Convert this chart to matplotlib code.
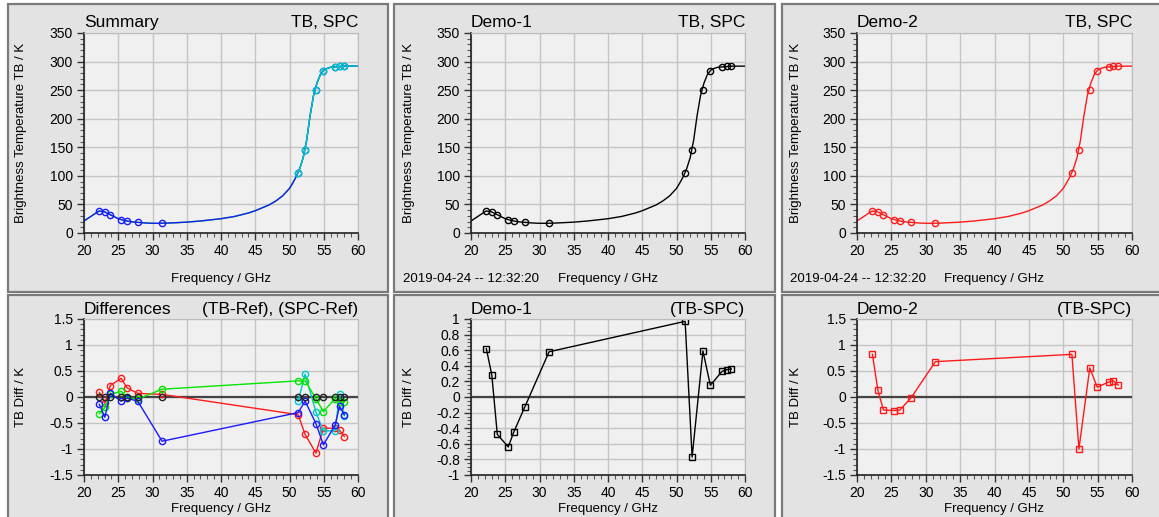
import matplotlib
matplotlib.use('Agg')
import matplotlib.pyplot as plt
from matplotlib.patches import Rectangle
from matplotlib.ticker import MultipleLocator, FuncFormatter

plt.rcParams['font.family'] = ['Liberation Sans', 'DejaVu Sans']

W, H = 1159, 517

# ---- data ----
freq = [22.24, 23.04, 23.84, 25.44, 26.24, 27.84, 31.40,
        51.26, 52.28, 53.86, 54.94, 56.66, 57.30, 58.00]
tb = [38.5, 37, 32, 23, 21, 18.5, 17.5, 105, 145, 250, 284, 291, 292, 292.5]

curve_freq = [20, 21, 22, 22.24, 23, 24, 25, 26, 27, 28, 29, 30, 31, 32, 33, 35, 37,
              40, 42, 44, 45, 46, 47, 48, 49, 50, 50.5, 51, 51.5, 52, 52.5, 53,
              53.5, 54, 54.5, 55, 55.5, 56, 57, 58, 59, 60]
curve_tb = [21, 29, 37, 38.5, 37, 31, 25, 21.5, 19.5, 18.5, 17.5, 17, 17, 17.3, 17.8,
            19, 21, 25, 29, 35, 39, 44, 49, 56, 65, 78, 88, 99, 113, 132, 162, 205,
            240, 262, 277, 285, 288, 290, 291, 292, 292, 292]

diff_zero = [0] * 14
diff_red = [0.09, -0.12, 0.22, 0.36, 0.18, 0.07, 0.05,
            -0.34, -0.72, -1.08, -0.60, -0.60, -0.64, -0.76]
diff_blue = [-0.14, -0.39, 0.07, -0.08, -0.02, -0.08, -0.85,
             -0.30, -0.08, -0.51, -0.92, -0.54, -0.18, -0.34]
diff_green = [-0.32, -0.20, 0.05, 0.11, -0.01, -0.04, 0.15,
              0.31, 0.31, -0.03, -0.28, -0.03, -0.10, -0.09]
cyan_freq = [51.26, 52.28, 53.86, 54.94, 56.66, 57.30, 58.00]
diff_cyan = [-0.08, 0.44, -0.29, -0.65, -0.65, 0.05, -0.36]

demo1_diff = [0.62, 0.28, -0.48, -0.64, -0.45, -0.13, 0.58,
              0.97, -0.77, 0.59, 0.15, 0.33, 0.35, 0.36]
demo2_diff = [0.82, 0.13, -0.25, -0.26, -0.25, -0.02, 0.68,
              0.82, -1.00, 0.56, 0.19, 0.29, 0.31, 0.23]

date_text = "2019-04-24 -- 12:32:20"

RED = '#ff1a1a'
BLUE = '#1a1aff'
GREEN = '#00e600'
CYAN = '#00c8c8'

fig = plt.figure(figsize=(W / 100, H / 100), dpi=100)
fig.patch.set_facecolor('white')


def fx(px):
    return px / W


def fy(py):
    return 1 - py / H


# panel backgrounds
cols = [(8, 388), (394, 775), (782, 1162)]
rows = [(4, 292), (295, 521)]
for (x0, x1) in cols:
    for (y0, y1) in rows:
        fig.patches.append(Rectangle((fx(x0), fy(y1)), fx(x1) - fx(x0), fy(y0) - fy(y1),
                                     transform=fig.transFigure, facecolor='#e3e3e3',
                                     edgecolor='#7a7a7a', linewidth=1.6, zorder=-5))

ax_cols = [(84, 358), (471, 745), (857, 1132)]
ax_rows = [(33, 233), (319, 475)]
ylab_x = [27, 415, 802]
fmt = FuncFormatter(lambda v, p: ('%g' % round(v, 6)) if abs(v) > 1e-9 else '0')


def make_ax(ci, ri, ylim, major, minor, ylabel, title_l, title_r):
    l, r = ax_cols[ci]
    t, b = ax_rows[ri]
    ax = fig.add_axes([fx(l), fy(b), fx(r) - fx(l), fy(t) - fy(b)])
    ax.set_facecolor('#f0f0f0')
    ax.set_xlim(20, 60)
    ax.set_ylim(*ylim)
    ax.xaxis.set_major_locator(MultipleLocator(5))
    ax.xaxis.set_minor_locator(MultipleLocator(1))
    ax.yaxis.set_major_locator(MultipleLocator(major))
    ax.yaxis.set_minor_locator(MultipleLocator(minor))
    ax.yaxis.set_major_formatter(fmt)
    ax.xaxis.set_major_formatter(fmt)
    ax.grid(True, which='major', color='#c4c4c4', linewidth=1.0)
    ax.set_axisbelow(True)
    ax.tick_params(which='major', direction='out', length=5, width=1, pad=3,
                   labelsize=10, color='#333333')
    ax.tick_params(which='minor', direction='out', length=3, width=0.8, color='#555555')
    ax.tick_params(top=False, right=False, which='both')
    for s in ['left', 'bottom']:
        ax.spines[s].set_color('#222222')
        ax.spines[s].set_linewidth(1.2)
    for s in ['top', 'right']:
        ax.spines[s].set_color('#bbbbbb')
        ax.spines[s].set_linewidth(0.8)
    ax.set_ylabel(ylabel, fontsize=9.5)
    ax.yaxis.set_label_coords((ylab_x[ci] - l) / (r - l), 0.5)
    ax.set_xlabel('Frequency / GHz', fontsize=9.5)
    xl_base = 282 if ri == 0 else 512
    ax.xaxis.set_label_coords(0.5, -(xl_base - b) / (b - t))
    ax.xaxis.label.set_va('baseline')
    tb_base = t - 6 if ri == 0 else t - 5
    fig.text(fx(l), fy(tb_base), title_l, fontsize=12.5, ha='left', va='baseline')
    fig.text(fx(r), fy(tb_base), title_r, fontsize=12.5, ha='right', va='baseline')
    return ax


mk = dict(marker='o', markersize=4.5, markerfacecolor='none', markeredgewidth=1.0,
          linestyle='none')

# --- Top row ---
ax = make_ax(0, 0, (0, 350), 50, 10, 'Brightness Temperature TB / K', 'Summary', 'TB, SPC')
ax.plot(curve_freq, curve_tb, color=GREEN, lw=1.0)
ax.plot(curve_freq, curve_tb, color=BLUE, lw=1.0)
hi_cf = [f for f in curve_freq if f >= 51]
hi_ct = [v for f, v in zip(curve_freq, curve_tb) if f >= 51]
ax.plot(hi_cf, hi_ct, color=CYAN, lw=1.0)
ax.plot(freq, tb, color=BLUE, **mk)
ax.plot(freq[7:], tb[7:], color=CYAN, **mk)

ax = make_ax(1, 0, (0, 350), 50, 10, 'Brightness Temperature TB / K', 'Demo-1', 'TB, SPC')
ax.plot(curve_freq, curve_tb, color='black', lw=1.0)
ax.plot(freq, tb, color='black', **mk)

ax = make_ax(2, 0, (0, 350), 50, 10, 'Brightness Temperature TB / K', 'Demo-2', 'TB, SPC')
ax.plot(curve_freq, curve_tb, color=RED, lw=1.0)
ax.plot(freq, tb, color=RED, **mk)

for px in (403, 790):
    fig.text(fx(px), fy(282), date_text, fontsize=9.5, ha='left', va='baseline')

# --- Bottom row ---
ml = dict(marker='o', markersize=4.5, markerfacecolor='none', markeredgewidth=1.0, lw=1.0)
ax = make_ax(0, 1, (-1.5, 1.5), 0.5, 0.1, 'TB Diff / K', 'Differences', '(TB-Ref), (SPC-Ref)')
ax.axhline(0, color='#444444', lw=1.6, zorder=1)
ax.plot(freq, diff_red, color=RED, **ml)
ax.plot(cyan_freq, diff_cyan, color=CYAN, **ml)
ax.plot(freq, diff_green, color=GREEN, **ml)
ax.plot(freq, diff_blue, color=BLUE, **ml)
ax.plot(freq, diff_zero, color='#222222', marker='o', markersize=4.5, markerfacecolor='none',
        markeredgewidth=1.0, linestyle='none')

sq = dict(marker='s', markersize=5, markerfacecolor='none', markeredgewidth=1.0, lw=1.0)
ax = make_ax(1, 1, (-1, 1), 0.2, 0.05, 'TB Diff / K', 'Demo-1', '(TB-SPC)')
ax.axhline(0, color='#444444', lw=1.6, zorder=1)
ax.plot(freq, demo1_diff, color='black', **sq)

ax = make_ax(2, 1, (-1.5, 1.5), 0.5, 0.1, 'TB Diff / K', 'Demo-2', '(TB-SPC)')
ax.axhline(0, color='#444444', lw=1.6, zorder=1)
ax.plot(freq, demo2_diff, color=RED, **sq)

fig.savefig('out.png', dpi=100, facecolor=fig.get_facecolor())
